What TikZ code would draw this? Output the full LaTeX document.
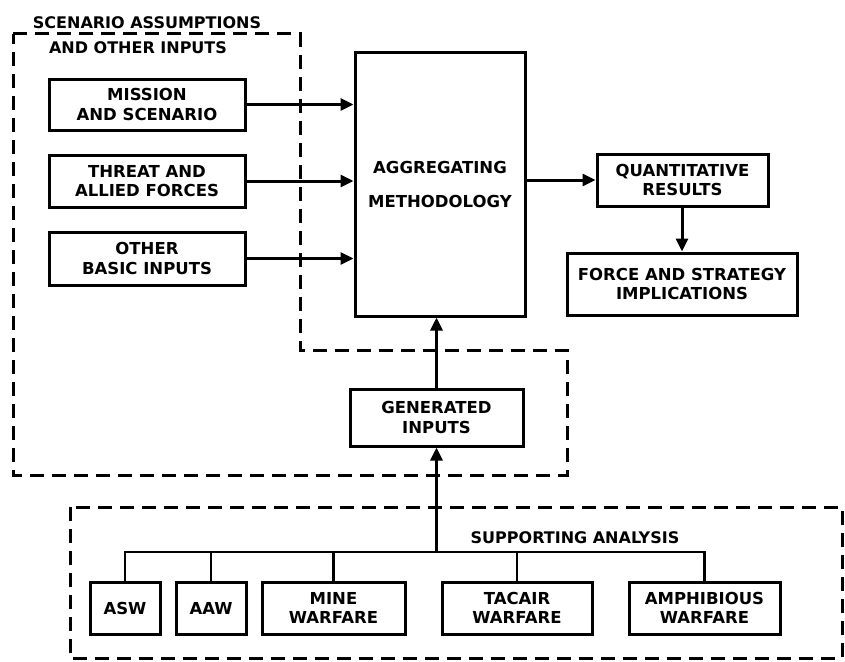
\documentclass[tikz,border=0pt]{standalone}
\usepackage{fontspec}
\setmainfont{DejaVu Sans}
\usetikzlibrary{arrows.meta}
\tikzset{
  box/.style={draw, line width=3pt, align=center, inner sep=0pt,
    font=\bfseries\fontsize{16.5}{19.5}\selectfont},
  lbl/.style={inner sep=0pt, font=\bfseries\fontsize{16}{19.5}\selectfont},
  arr/.style={line width=3pt, -{Triangle[length=13pt,width=12pt]}},
  wire/.style={line width=2.8pt},
  dashline/.style={line width=3pt, dash pattern=on 14pt off 8pt},
}
\begin{document}
\begin{tikzpicture}[x=1pt,y=-1pt]
\useasboundingbox (0,0) rectangle (845,661);
% dashed regions
\draw[dashline] (13,34) -- (300,34) -- (300,350) -- (567,350) -- (567,475) -- (13,475) -- cycle;
\draw[dashline] (70,507) rectangle (842,658);
% labels
\node[lbl] (lscen) at (147,22.5) {SCENARIO ASSUMPTIONS};
\node[lbl] (lother) at (138,47.5) {AND OTHER INPUTS};
\node[lbl] (lsupp) at (575,538) {SUPPORTING ANALYSIS};
% boxes
\node[box, minimum width=196pt, minimum height=51pt] (mission) at (147,104.5) {MISSION\\AND SCENARIO};
\node[box, minimum width=196pt, minimum height=52pt] (threat) at (147,181) {THREAT AND\\ALLIED FORCES};
\node[box, minimum width=196pt, minimum height=53pt] (other) at (147,258.5) {OTHER\\BASIC INPUTS};
\node[box, minimum width=170pt, minimum height=263pt] (agg) at (440,184.5) {AGGREGATING\\[14pt]METHODOLOGY};
\node[box, minimum width=171pt, minimum height=52pt] (quant) at (682.5,180) {QUANTITATIVE\\RESULTS};
\node[box, minimum width=230pt, minimum height=62pt] (force) at (682,284) {FORCE AND STRATEGY\\IMPLICATIONS};
\node[box, minimum width=173pt, minimum height=57pt] (gen) at (436.5,417.5) {GENERATED\\INPUTS};
\node[box, minimum width=70pt, minimum height=52pt] (asw) at (125,608) {ASW};
\node[box, minimum width=70pt, minimum height=52pt] (aaw) at (211,608) {AAW};
\node[box, minimum width=143pt, minimum height=52pt] (mine) at (333.5,608) {MINE\\WARFARE};
\node[box, minimum width=150pt, minimum height=52pt] (tacair) at (517,608) {TACAIR\\WARFARE};
\node[box, minimum width=151pt, minimum height=52pt] (amph) at (704.5,608) {AMPHIBIOUS\\WARFARE};
% connectors
\draw[arr] (mission.east) -- (mission.east -| agg.west);
\draw[arr] (threat.east) -- (threat.east -| agg.west);
\draw[arr] (other.east) -- (other.east -| agg.west);
\draw[arr] (agg.east |- quant.west) -- (quant.west);
\draw[arr] (quant.south -| force.north) -- (force.north);
\draw[arr] (gen.north) -- (gen.north |- agg.south);
\coordinate (bus) at (436.5,552);
\draw[arr] (bus) -- (gen.south);
\draw[wire] (asw.north) |- (bus);
\draw[wire] (amph.north) |- (bus);
\draw[wire] (aaw.north) -- (aaw.north |- bus);
\draw[wire] (mine.north) -- (mine.north |- bus);
\draw[wire] (tacair.north) -- (tacair.north |- bus);
\end{tikzpicture}
\end{document}
